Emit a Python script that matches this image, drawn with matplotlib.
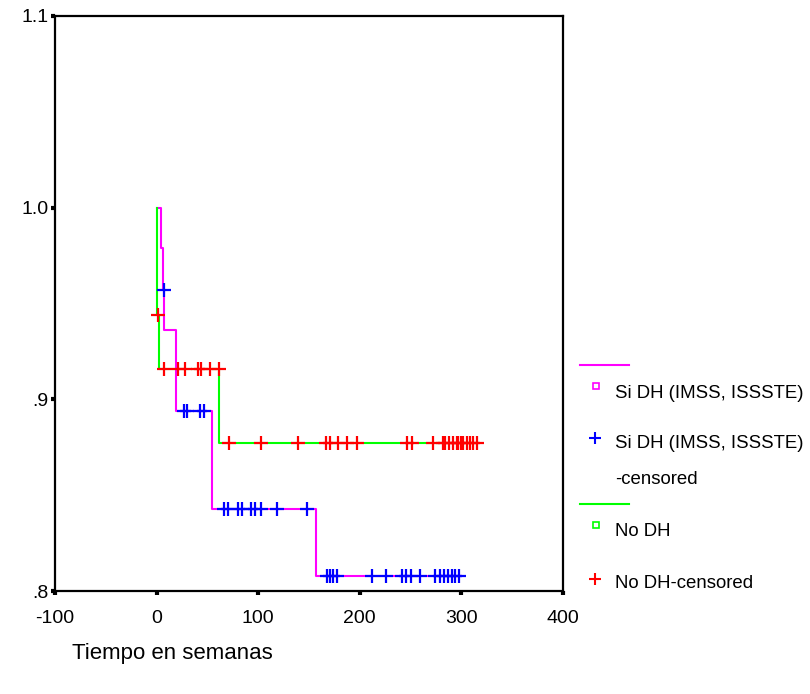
import numpy as np
import matplotlib.pyplot as plt
from matplotlib.lines import Line2D

plt.rcParams['font.family'] = ['Liberation Sans', 'DejaVu Sans']

# survival steps (time where the level starts, level)
si_t = [0, 4.5, 6.2, 7.2, 19, 54.5, 157, 299.5]
si_s = [1.0, 0.979, 0.957, 0.936, 0.894, 0.843, 0.808, 0.808]
no_t = [0, 0.3, 0.8, 1.9, 61.8, 316]
no_s = [1.0, 0.972, 0.944, 0.916, 0.877, 0.877]

# censored times
si_cens = [6.9, 27, 30, 43, 47,
           66.5, 69.8, 80.6, 84.5, 92.8, 96.4, 102.9, 118.4, 147.9,
           168, 171, 174, 178, 212, 226, 241.5, 245.6, 250.3, 258.8,
           274.2, 279.1, 283, 286.7, 290.6, 293.9, 298]
no_cens = [1.0, 6.8, 20.6, 28.1, 41.2, 43.6, 52.8, 61.5,
           71.5, 103, 138.7, 166.9, 170.2, 178.4, 187.8, 197.1, 246.9, 251.2,
           271.9, 281.7, 284, 288.2, 292.1, 295.5, 297, 299.4, 302, 305.3,
           308.6, 311.2, 315.2]

xticks = [-100, 0, 100, 200, 300, 400]
yticks = [0.8, 0.9, 1.0, 1.1]
ylabels = ['.8', '.9', '1.0', '1.1']


def level(ts, ss, c):
    i = np.searchsorted(ts, c, side='right') - 1
    return np.array(ss)[i]


W, H = 810, 694
fig = plt.figure(figsize=(W / 100, H / 100), dpi=100)
ax = fig.add_axes([55 / W, 1 - 591 / H, 508 / W, 575 / H])

ax.step(si_t, si_s, where='post', color='#FF00FF', lw=1.5)
ax.step(no_t, no_s, where='post', color='#00FF00', lw=1.5)
ax.plot(no_cens, level(no_t, no_s, no_cens), '+', color='#FF0000', ms=9.5, mew=1.6)
ax.plot(si_cens, level(si_t, si_s, si_cens), '+', color='#0000FF', ms=9.5, mew=1.6)

ax.set_xlim(-100, 400)
ax.set_ylim(0.8, 1.1)
ax.set_xticks(xticks)
ax.set_xticklabels([str(v) for v in xticks])
ax.set_yticks(yticks)
ax.set_yticklabels(ylabels)
ax.tick_params(direction='out', length=3, width=3, labelsize=14, color='black')
ax.tick_params(axis='x', pad=11)
ax.tick_params(axis='y', pad=1.5)
for s in ax.spines.values():
    s.set_linewidth(1.6)

# legend, SPSS style
def fx(x):
    return x / W


def fy(y):
    return 1 - y / H


lf = 13.4
fig.add_artist(Line2D([fx(580), fx(629)], [fy(365), fy(365)], color='#FF00FF', lw=1.5))
fig.add_artist(Line2D([fx(596)], [fy(386)], marker='s', ms=5, mfc='none', mec='#FF00FF', mew=1.2, ls='none'))
fig.text(fx(615), fy(393), 'Si DH (IMSS, ISSSTE)', fontsize=lf, va='center')
fig.add_artist(Line2D([fx(595)], [fy(438)], marker='+', ms=9, mec='#0000FF', mew=1.5, ls='none'))
fig.text(fx(615), fy(443), 'Si DH (IMSS, ISSSTE)', fontsize=lf, va='center')
fig.text(fx(615), fy(480), '-censored', fontsize=lf, va='center')
fig.add_artist(Line2D([fx(580), fx(629)], [fy(504), fy(504)], color='#00FF00', lw=1.5))
fig.add_artist(Line2D([fx(596)], [fy(525)], marker='s', ms=5, mfc='none', mec='#00FF00', mew=1.2, ls='none'))
fig.text(fx(615), fy(532), 'No DH', fontsize=lf, va='center')
fig.add_artist(Line2D([fx(595)], [fy(579)], marker='+', ms=9, mec='#FF0000', mew=1.5, ls='none'))
fig.text(fx(615), fy(583), 'No DH-censored', fontsize=lf, va='center')

fig.text(fx(72), fy(654), 'Tiempo en semanas', fontsize=16, va='center')

fig.savefig('out.png', dpi=100)
